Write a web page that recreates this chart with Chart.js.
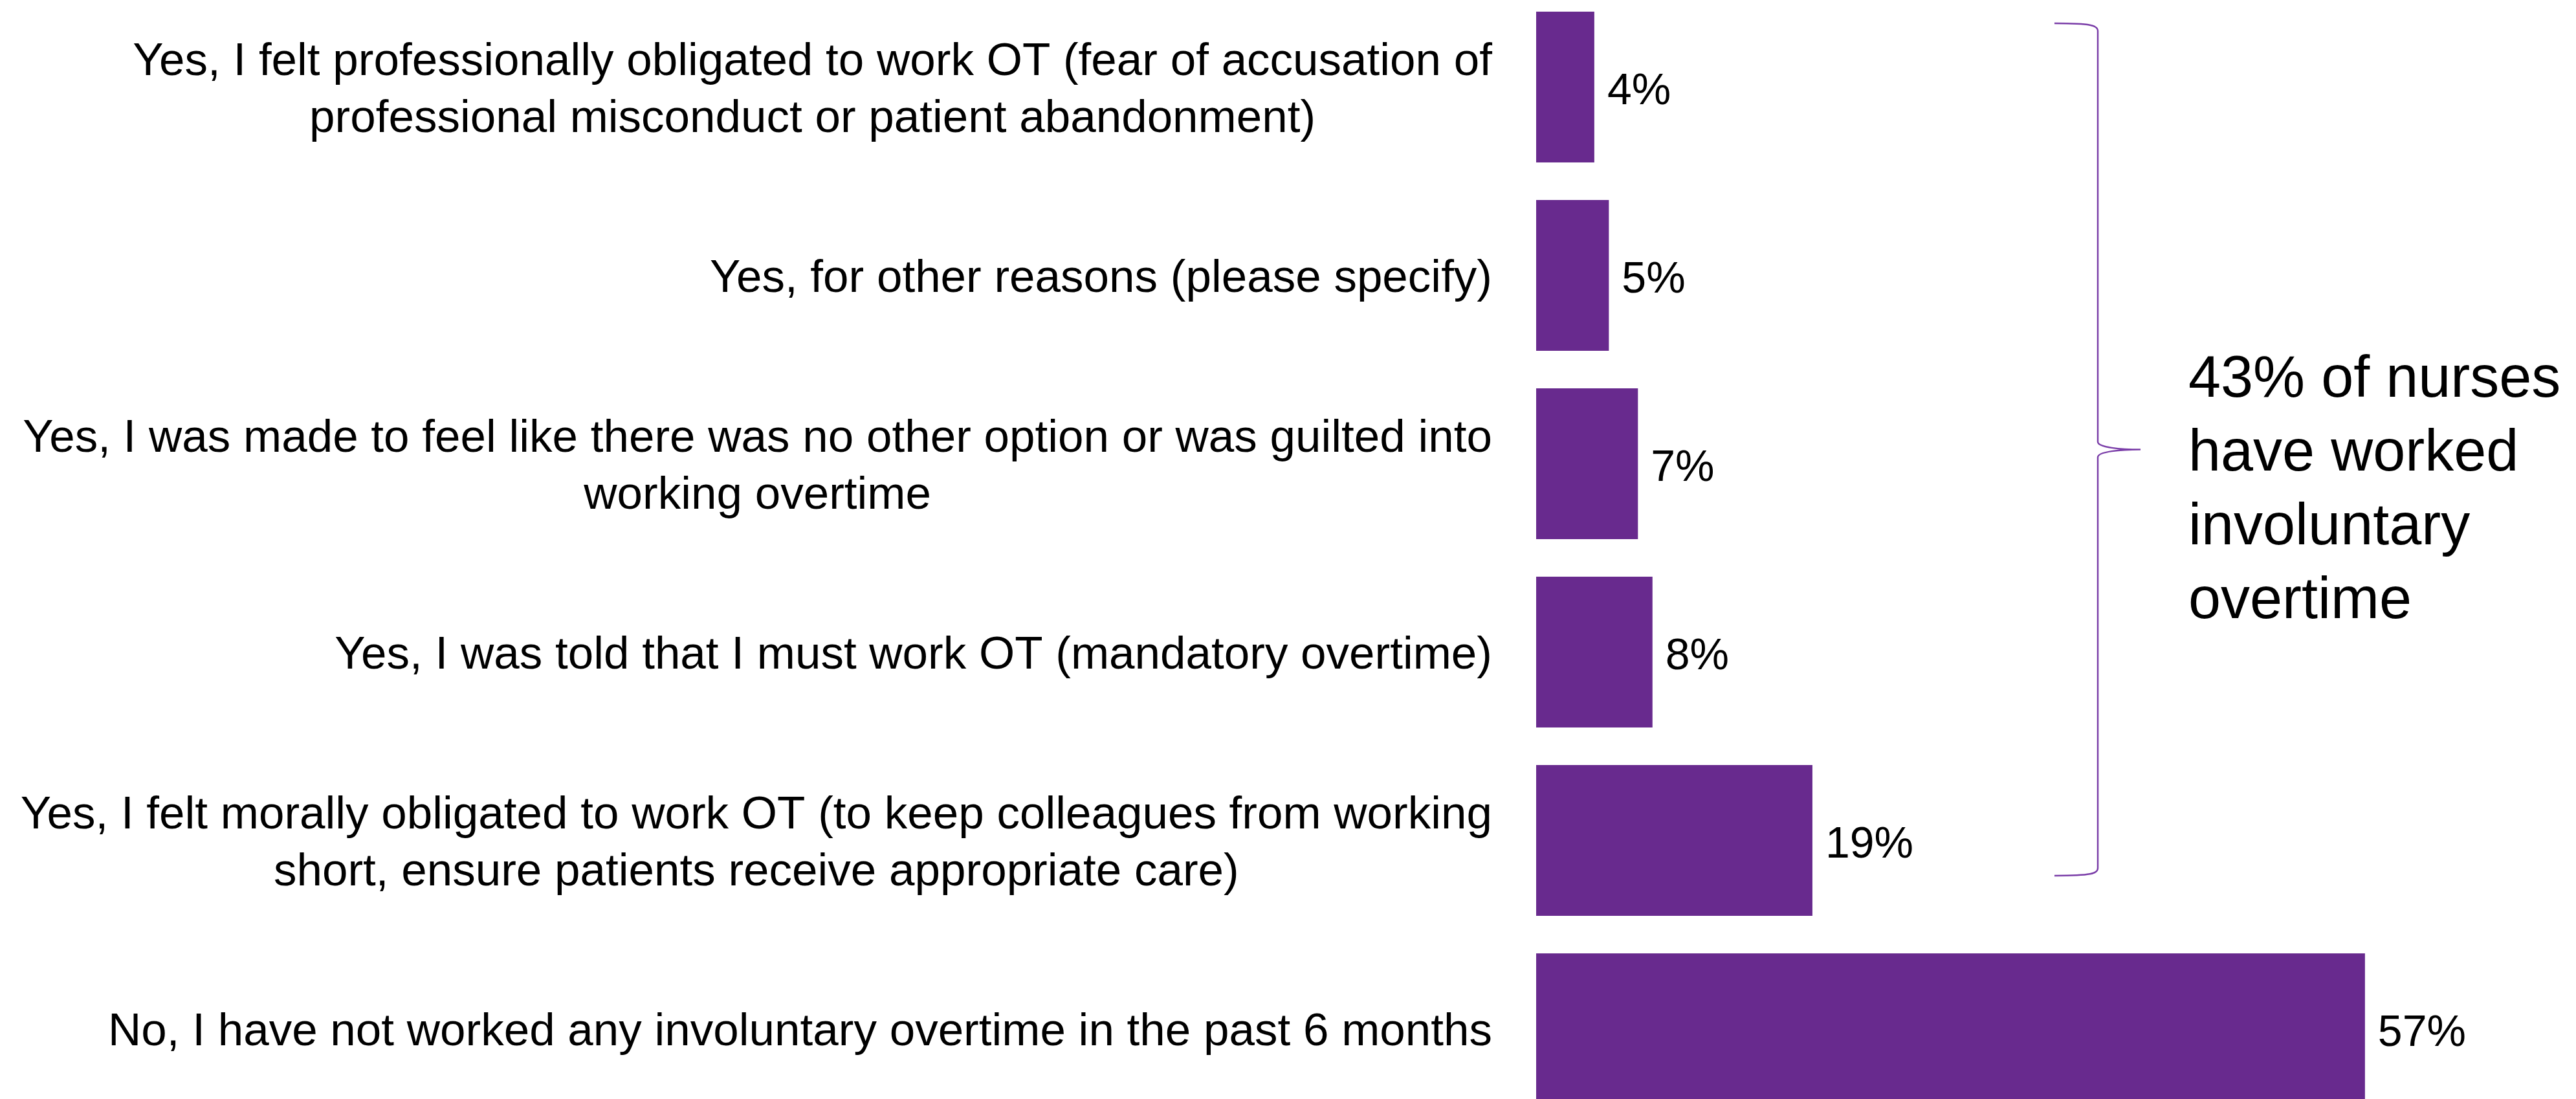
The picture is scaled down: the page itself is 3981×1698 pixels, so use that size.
<!DOCTYPE html>
<html>
<head>
<meta charset="utf-8">
<title>Involuntary overtime</title>
<script src="https://cdn.jsdelivr.net/npm/chart.js@4.4.1/dist/chart.umd.min.js"></script>
<style>
  html, body { margin: 0; padding: 0; background: #fff; overflow: hidden; }
  #wrap { position: relative; width: 3981px; height: 1698px; overflow: hidden; }
  #chart { position: absolute; left: 0; top: -11px; }
</style>
</head>
<body>
<div id="wrap">
  <canvas id="chart" width="3981" height="1746"></canvas>
</div>
<script>
const answers = [
  ["Yes, I felt professionally obligated to work OT (fear of accusation of", "professional misconduct or patient abandonment)"],
  ["Yes, for other reasons (please specify)"],
  ["Yes, I was made to feel like there was no other option or was guilted into", "working overtime"],
  ["Yes, I was told that I must work OT (mandatory overtime)"],
  ["Yes, I felt morally obligated to work OT (to keep colleagues from working", "short, ensure patients receive appropriate care)"],
  ["No, I have not worked any involuntary overtime in the past 6 months"]
];
const percents = [4, 5, 7, 8, 19, 57];
const calloutLines = ["43% of nurses", "have worked", "involuntary", "overtime"];

const PURPLE = "#682A8E";
const FONT = '"Liberation Sans", Arial, sans-serif';

// category labels, value labels, brace and callout text
const decorations = {
  id: "decorations",
  afterDatasetsDraw(chart) {
    const ctx = chart.ctx;
    const area = chart.chartArea;
    const x = chart.scales.x;
    const y = chart.scales.y;
    const bars = chart.getDatasetMeta(0).data;

    ctx.save();
    ctx.fillStyle = "#000";
    ctx.textBaseline = "middle";

    // left labels: block right-aligned, lines centred within the block
    ctx.font = "71px " + FONT;
    const lineH = 88;
    const right = area.left - 68;
    answers.forEach((lines, i) => {
      const cy = y.getPixelForTick(i) + 6;
      const w = Math.max(...lines.map(l => ctx.measureText(l).width));
      const cx = right - w / 2;
      ctx.textAlign = "center";
      lines.forEach((l, k) => {
        ctx.fillText(l, cx, cy - (lines.length - 1) * lineH / 2 + k * lineH);
      });
    });

    // value labels
    ctx.font = "68px " + FONT;
    ctx.textAlign = "left";
    percents.forEach((v, i) => {
      ctx.fillText(v + "%", x.getPixelForValue(v) + 20, y.getPixelForTick(i) + 8);
    });

    // curly brace over the "yes" answers
    const top = bars[0].y - bars[0].height / 2 + 18;
    const bottom = bars[4].y + bars[4].height / 2 - 62;
    const mid = (top + bottom) / 2;
    const x0 = area.left + 801;
    const xv = area.left + 868;
    const xt = area.left + 934;
    ctx.strokeStyle = "#7A3DA8";
    ctx.lineWidth = 2.5;
    ctx.beginPath();
    ctx.moveTo(x0, top);
    ctx.bezierCurveTo(xv - 10, top, xv, top + 3, xv, top + 12);
    ctx.lineTo(xv, mid - 12);
    ctx.bezierCurveTo(xv, mid - 3, xt - 30, mid, xt, mid);
    ctx.bezierCurveTo(xt - 30, mid, xv, mid + 3, xv, mid + 12);
    ctx.lineTo(xv, bottom - 12);
    ctx.bezierCurveTo(xv, bottom - 3, xv - 10, bottom, x0, bottom);
    ctx.stroke();

    // callout text
    ctx.font = "90px " + FONT;
    ctx.textBaseline = "alphabetic";
    ctx.textAlign = "left";
    calloutLines.forEach((l, k) => {
      ctx.fillText(l, area.left + 1008, mid - 82 + k * 114);
    });

    ctx.restore();
  }
};

new Chart(document.getElementById("chart"), {
  type: "bar",
  data: {
    labels: answers,
    datasets: [{
      data: percents,
      backgroundColor: PURPLE,
      borderWidth: 0,
      categoryPercentage: 0.8,
      barPercentage: 1
    }]
  },
  options: {
    indexAxis: "y",
    responsive: false,
    animation: false,
    events: [],
    layout: { padding: { left: 2374, right: 34, top: 0, bottom: 0 } },
    plugins: {
      legend: { display: false },
      tooltip: { enabled: false }
    },
    scales: {
      x: { display: false, min: 0, max: 70 },
      y: { display: false }
    }
  },
  plugins: [decorations]
});
</script>
</body>
</html>
